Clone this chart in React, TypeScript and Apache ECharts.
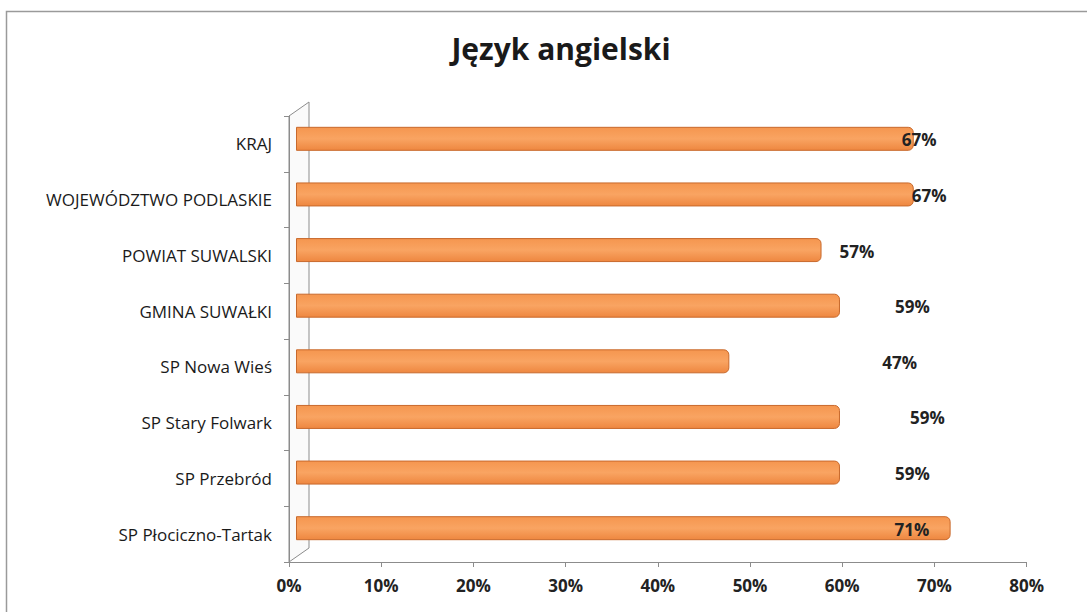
import React, { useEffect, useRef } from "react";
import * as echarts from "echarts";

const categories = [
  "KRAJ",
  "WOJEWÓDZTWO PODLASKIE",
  "POWIAT SUWALSKI",
  "GMINA SUWAŁKI",
  "SP Nowa Wieś",
  "SP Stary Folwark",
  "SP Przebród",
  "SP Płociczno-Tartak",
];
const values = [0.67, 0.67, 0.57, 0.59, 0.47, 0.59, 0.59, 0.71];
// horizontal shift of each value label, as placed in the original chart
const labelShift = [-12, -2, 18, 55, 153, 70, 55, -56];
const axisMin = 0;
const axisMax = 0.8;
const axisStep = 0.1;
const title = "Język angielski";

const FONT = "'Open Sans', Lato, sans-serif";

// front plane (axes) and back plane (bars) of the 3-D look
const FRONT = { left: 289, top: 116, width: 737.6, height: 446 };
const BARS = { left: 296, top: 111, width: 737.6, height: 445 };
const DEPTH = { dx: 20, dy: -14 };

export default function App() {
  const ref = useRef<HTMLDivElement>(null);
  useEffect(() => {
    if (!ref.current) return;
    const chart = echarts.init(ref.current, undefined, { renderer: "svg" });
    const fl = FRONT.left, ft = FRONT.top, fb = FRONT.top + FRONT.height;
    const option: any = {
      animation: false,
      backgroundColor: "#ffffff",
      title: {
        text: title,
        left: 556,
        textAlign: "center",
        top: 28,
        textStyle: { fontFamily: FONT, fontSize: 30, fontWeight: "bold", color: "#1a1a1a" },
      },
      grid: [
        { left: FRONT.left, top: FRONT.top, width: FRONT.width, height: FRONT.height },
        { left: BARS.left, top: BARS.top, width: BARS.width, height: BARS.height },
      ],
      xAxis: [
        {
          gridIndex: 0,
          type: "value",
          min: axisMin,
          max: axisMax,
          interval: axisStep,
          axisLine: { show: true, lineStyle: { color: "#8c8c8c", width: 1 } },
          axisTick: { show: true, length: 5, lineStyle: { color: "#8c8c8c" } },
          splitLine: { show: false },
          axisLabel: {
            margin: 15,
            fontFamily: FONT,
            fontSize: 17,
            fontWeight: "bold",
            color: "#222",
            formatter: (v: number) => Math.round(v * 100) + "%",
          },
        },
        {
          gridIndex: 1,
          type: "value",
          min: axisMin,
          max: axisMax,
          show: false,
          splitLine: { show: false },
        },
      ],
      yAxis: [
        {
          gridIndex: 0,
          type: "category",
          data: categories,
          inverse: true,
          axisLine: { show: true, lineStyle: { color: "#8c8c8c" } },
          axisTick: { show: true, length: 5, lineStyle: { color: "#8c8c8c" } },
          axisLabel: {
            margin: 17,
            fontFamily: FONT,
            fontSize: 17,
            color: "#1a1a1a",
          },
        },
        {
          gridIndex: 1,
          type: "category",
          data: categories,
          inverse: true,
          show: false,
        },
      ],
      graphic: [
        {
          type: "rect",
          z: 0,
          silent: true,
          shape: { x: 6.5, y: 11.5, width: 1100, height: 620 },
          style: { fill: "none", stroke: "#9a9a9a", lineWidth: 1.5 },
        },
        {
          type: "polygon",
          z: 0,
          silent: true,
          shape: {
            points: [
              [fl, ft],
              [fl + DEPTH.dx, ft + DEPTH.dy],
              [fl + DEPTH.dx, fb + DEPTH.dy],
              [fl, fb],
            ],
          },
          style: { fill: "#fafafa", stroke: "#8c8c8c", lineWidth: 1 },
        },
      ],
      series: [
        {
          type: "bar",
          xAxisIndex: 1,
          yAxisIndex: 1,
          barWidth: 24,
          z: 3,
          data: values.map((v, i) => ({
            value: v,
            label: { offset: [labelShift[i], 1] },
          })),
          itemStyle: {
            color: new echarts.graphic.LinearGradient(0, 0, 0, 1, [
              { offset: 0, color: "#f5964f" },
              { offset: 0.5, color: "#f9a462" },
              { offset: 1, color: "#ee8740" },
            ]),
            borderColor: "#c8692c",
            borderWidth: 1,
            borderRadius: [0, 5, 5, 0],
          },
          label: {
            show: true,
            position: "right",
            distance: 0,
            fontFamily: FONT,
            fontSize: 17,
            fontWeight: "bold",
            color: "#222",
            formatter: (p: any) => Math.round(p.value * 100) + "%",
          },
        },
      ],
    };
    chart.setOption(option);
    return () => chart.dispose();
  }, []);
  return (
    <div
      ref={ref}
      style={{ position: "fixed", left: 0, top: 0, width: 1087, height: 612 }}
    />
  );
}
